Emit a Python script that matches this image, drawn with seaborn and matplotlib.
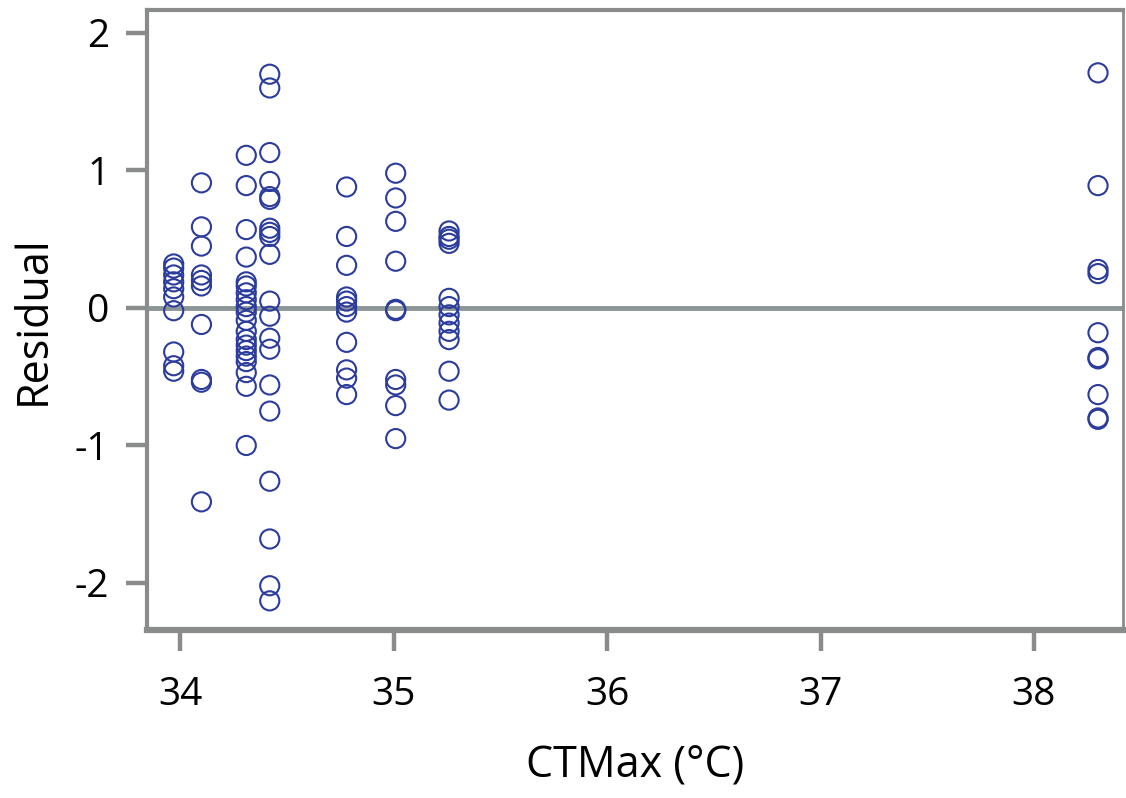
import matplotlib
matplotlib.use("Agg")
import matplotlib.pyplot as plt
import seaborn as sns
import pandas as pd

# CTMax groups (°C) and residuals
ctmax_levels = [33.97, 34.10, 34.31, 34.42, 34.78, 35.01, 35.26, 38.30]

res_3397 = [0.32, 0.29, 0.24, 0.19, 0.14, 0.08, -0.02, -0.32, -0.42, -0.46]
res_3410 = [0.91, 0.59, 0.45, 0.24, 0.20, 0.16, -0.12, -0.52, -0.54, -1.41]
res_3431 = [1.11, 0.89, 0.57, 0.37, 0.19, 0.16, 0.11, 0.06, 0.01, -0.03,
            -0.09, -0.17, -0.23, -0.27, -0.31, -0.35, -0.39, -0.47, -0.57, -1.00]
res_3442 = [1.70, 1.60, 1.13, 0.92, 0.81, 0.79, 0.58, 0.55, 0.52, 0.39,
            0.05, -0.06, -0.22, -0.30, -0.56, -0.75, -1.26, -1.68, -2.02, -2.13]
res_3478 = [0.88, 0.52, 0.31, 0.08, 0.05, 0.01, -0.03, -0.25, -0.45, -0.51, -0.63]
res_3501 = [0.98, 0.80, 0.63, 0.34, -0.01, -0.02, -0.52, -0.56, -0.71, -0.95]
res_3526 = [0.56, 0.52, 0.50, 0.47, 0.07, 0.01, -0.05, -0.11, -0.17, -0.23, -0.46, -0.67]
res_3830 = [1.71, 0.89, 0.28, 0.25, -0.18, -0.36, -0.37, -0.63, -0.80, -0.81]

groups = [res_3397, res_3410, res_3431, res_3442, res_3478, res_3501, res_3526, res_3830]

x_ticks = [34, 35, 36, 37, 38]
y_ticks = [-2, -1, 0, 1, 2]

rows = []
for lvl, vals in zip(ctmax_levels, groups):
    for v in vals:
        rows.append({"CTMax": lvl, "Residual": v})
df = pd.DataFrame(rows)

sns.set_theme(style="white")
plt.rcParams["font.family"] = ["Open Sans", "DejaVu Sans"]

fig = plt.figure(figsize=(11.26, 7.98), dpi=100)
ax = fig.add_axes([147 / 1126, 1 - 630 / 798, (1123 - 147) / 1126, (630 - 10) / 798])

frame_gray = "#8a8c8c"
point_blue = "#2b3c9c"

ax.axhline(0, color="#8c9696", lw=3.5, zorder=1)

sns.scatterplot(data=df, x="CTMax", y="Residual", ax=ax, marker="o", s=190,
                facecolor="none", edgecolor=point_blue, linewidth=1.5,
                zorder=3, legend=False)

ax.set_xlim(33.845, 38.417)
ax.set_ylim(-2.342, 2.167)
ax.set_xticks(x_ticks)
ax.set_yticks(y_ticks)
ax.set_xticklabels([str(t) for t in x_ticks])
ax.set_yticklabels([str(t) for t in y_ticks])

for name, sp in ax.spines.items():
    sp.set_visible(True)
    sp.set_color(frame_gray)
    sp.set_linewidth(3.0)
ax.spines["bottom"].set_linewidth(4.5)
ax.spines["right"].set_linewidth(2.0)

ax.tick_params(axis="both", which="major", bottom=True, left=True,
               direction="out", length=15, width=3.2, color=frame_gray,
               labelsize=28, labelcolor="black")
ax.tick_params(axis="x", pad=18)
ax.tick_params(axis="y", pad=12)

ax.set_xlabel("CTMax (°C)", fontsize=31, labelpad=22, color="black")
ax.set_ylabel("Residual", fontsize=31, labelpad=14, color="black")

fig.savefig("out.png", dpi=100)
